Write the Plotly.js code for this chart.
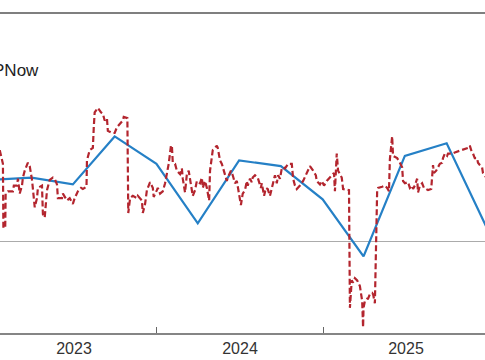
<!DOCTYPE html>
<html>
<head>
<meta charset="utf-8">
<script src="https://cdn.plot.ly/plotly-3.0.1.min.js"></script>
<style>
html,body{margin:0;padding:0;overflow:hidden;width:485px;height:360px;background:#fff}
#wrap{position:absolute;left:-100px;top:0;width:625px;height:360px}
</style>
</head>
<body>
<div id="wrap"></div>
<script>
// Quarterly real GDP growth (blue line), plotted at quarter end
const gdpDates = ['2022-12-31','2023-03-31','2023-06-30','2023-09-30','2023-12-31','2024-03-31','2024-06-30','2024-09-30','2024-12-31','2025-03-31','2025-06-30','2025-09-30','2025-12-31'];
const gdpValues = [2.7, 2.8, 2.5, 4.6, 3.4, 0.8, 3.55, 3.3, 1.85, -0.65, 3.75, 4.3, 0.45];

// GDPNow nowcast (red dashed line)
const nowDates = [
'2023-01-20','2023-01-23','2023-01-27','2023-01-28','2023-02-01','2023-02-02','2023-02-07','2023-02-18','2023-02-20','2023-02-27',
'2023-03-01','2023-03-05','2023-03-10','2023-03-12','2023-03-16','2023-03-23','2023-03-27','2023-04-01','2023-04-03','2023-04-07',
'2023-04-12','2023-04-14','2023-04-23','2023-04-25','2023-04-29','2023-05-04','2023-05-10','2023-05-17','2023-05-21','2023-05-26',
'2023-05-28','2023-06-06','2023-06-08','2023-06-17','2023-06-23','2023-06-30','2023-07-04','2023-07-11','2023-07-18','2023-07-22',
'2023-07-30','2023-07-31','2023-08-06','2023-08-13','2023-08-15','2023-08-17','2023-08-24','2023-08-31','2023-09-04','2023-09-08',
'2023-09-13','2023-09-15','2023-09-24','2023-09-30','2023-10-05','2023-10-12','2023-10-18','2023-10-20','2023-10-27','2023-10-28',
'2023-10-30','2023-11-03','2023-11-09','2023-11-18','2023-11-20','2023-11-29','2023-12-01','2023-12-06','2023-12-10','2023-12-17',
'2023-12-23','2023-12-25','2024-01-01','2024-01-03','2024-01-08','2024-01-14','2024-01-19','2024-01-23','2024-01-27','2024-02-01',
'2024-02-03','2024-02-05','2024-02-10','2024-02-14','2024-02-21','2024-02-25','2024-02-27','2024-03-03','2024-03-07','2024-03-11',
'2024-03-16','2024-03-20','2024-03-25','2024-03-29','2024-04-05','2024-04-09','2024-04-11','2024-04-16','2024-04-20','2024-04-25',
'2024-04-27','2024-05-01','2024-05-03','2024-05-08','2024-05-12','2024-05-14','2024-05-19','2024-05-23','2024-05-28','2024-06-03',
'2024-06-05','2024-06-12','2024-06-16','2024-06-21','2024-06-25','2024-06-30','2024-07-04','2024-07-08','2024-07-13','2024-07-17',
'2024-07-19','2024-07-24','2024-07-28','2024-07-30','2024-08-04','2024-08-10','2024-08-17','2024-08-19','2024-08-24','2024-08-28',
'2024-09-01','2024-09-06','2024-09-10','2024-09-12','2024-09-17','2024-09-21','2024-09-24','2024-09-28','2024-10-02','2024-10-05',
'2024-10-09','2024-10-16','2024-10-24','2024-10-27','2024-10-31','2024-11-04','2024-11-11','2024-11-18','2024-11-26','2024-12-03',
'2024-12-10','2024-12-16','2024-12-18','2024-12-25','2024-12-29','2025-01-03','2025-01-09','2025-01-14','2025-01-20','2025-01-25',
'2025-01-27','2025-01-29','2025-01-31','2025-02-03','2025-02-07','2025-02-11','2025-02-14','2025-02-25','2025-02-27','2025-03-01',
'2025-03-05','2025-03-08','2025-03-12','2025-03-17','2025-03-19','2025-03-23','2025-03-28','2025-03-30','2025-03-31','2025-04-03',
'2025-04-08','2025-04-10','2025-04-14','2025-04-19','2025-04-21','2025-04-25','2025-04-30','2025-05-02','2025-05-11','2025-05-17',
'2025-05-22','2025-05-26','2025-05-28','2025-06-02','2025-06-04','2025-06-08','2025-06-13','2025-06-19','2025-06-24','2025-06-26',
'2025-06-30','2025-07-07','2025-07-11','2025-07-16','2025-07-18','2025-07-22','2025-07-27','2025-07-29','2025-08-02','2025-08-07',
'2025-08-11','2025-08-16','2025-08-20','2025-08-27','2025-08-29','2025-08-31','2025-09-02','2025-09-07','2025-09-11','2025-09-15',
'2025-09-20','2025-09-22','2025-09-26','2025-10-01','2025-10-03','2025-10-12','2025-10-18','2025-10-25','2025-11-03','2025-11-09',
'2025-11-16','2025-11-20','2025-11-23','2025-11-27','2025-12-01','2025-12-06','2025-12-08','2025-12-12','2025-12-17','2025-12-19',
'2025-12-23','2025-12-30'];
const nowValues = [
4.0,3.7,3.4,0.6,0.6,2.1,2.2,2.2,2.45,2.45,
2.75,2.1,2.45,2.8,3.1,3.45,3.3,2.7,2.2,1.5,
1.9,2.35,2.45,1.2,1.05,2.25,2.7,2.8,2.75,2.5,
1.9,1.9,2.1,1.8,1.9,1.65,1.9,2.2,2.35,2.3,
2.4,3.55,4.0,4.1,5.0,5.65,5.85,5.65,5.6,5.3,
5.4,4.85,4.75,4.75,5.0,5.15,5.3,5.45,5.4,5.4,
1.25,1.9,2.0,1.9,2.0,1.8,1.25,1.65,2.25,2.6,
2.35,1.95,2.25,2.35,2.1,2.2,2.55,3.0,3.4,4.2,
4.2,3.45,3.4,3.1,2.95,3.2,2.75,2.15,2.95,3.1,
2.55,2.0,2.25,2.65,2.55,2.8,2.35,2.65,2.35,1.8,
3.1,3.85,4.0,4.1,4.2,4.1,3.55,3.4,3.0,2.65,
2.8,3.1,2.9,2.55,2.65,1.95,1.6,2.1,2.25,2.65,
2.45,2.75,2.6,2.8,2.9,2.8,2.35,2.55,2.0,2.35,
2.3,2.0,2.35,2.6,2.9,2.55,2.9,2.75,3.2,3.25,
3.2,3.4,3.4,2.75,2.45,2.3,2.45,2.65,3.0,3.3,
3.1,2.9,2.65,2.5,2.65,2.45,2.65,2.75,2.9,3.0,
2.2,2.8,3.85,3.1,2.95,2.8,2.3,2.25,2.25,-2.9,
-1.7,-1.8,-1.6,-1.7,-1.8,-1.95,-2.6,-3.75,-2.9,-2.6,
-2.5,-2.5,-2.3,-2.25,-2.3,-2.7,2.25,2.35,2.4,2.45,
2.35,2.2,3.6,4.6,3.75,3.7,3.65,3.45,3.25,2.65,
2.55,2.6,2.35,2.45,2.3,2.45,2.75,2.15,2.45,2.55,
2.35,2.3,2.25,2.3,2.95,3.35,3.0,3.1,3.25,3.4,
3.45,3.65,3.85,3.75,3.85,3.85,3.9,3.95,4.0,4.05,
4.1,4.2,4.0,3.85,3.65,3.65,3.45,3.35,3.25,3.0,
2.9,2.7];

const traces = [
  {
    x: gdpDates, y: gdpValues, type: 'scatter', mode: 'lines',
    name: 'Real GDP', showlegend: false,
    line: {color: '#2580c6', width: 2.2}
  },
  {
    x: nowDates, y: nowValues, type: 'scatter', mode: 'lines',
    name: 'GDPNow',
    line: {color: '#b3252e', width: 2.2, dash: '6px,3px'}
  }
];

const layout = {
  width: 625, height: 360,
  margin: {l: 80, r: 15, t: 13, b: 27},
  paper_bgcolor: '#ffffff', plot_bgcolor: '#ffffff',
  font: {family: 'Liberation Sans, Arial, sans-serif', color: '#333'},
  xaxis: {
    type: 'date',
    range: ['2022-12-07 12:00', '2026-02-16 12:00'],
    showgrid: false, zeroline: false,
    showline: true, linecolor: '#858585', linewidth: 1.5,
    ticks: 'inside', ticklen: 6, tickcolor: '#666', tickwidth: 1,
    dtick: 'M12', tick0: '2023-01-01', tickformat: '%Y',
    ticklabelmode: 'period',
    tickfont: {size: 16, color: '#333'}
  },
  yaxis: {
    range: [-4, 10], showgrid: false,
    zeroline: true, zerolinecolor: '#ababab', zerolinewidth: 1.5,
    showline: false, showticklabels: false, ticks: ''
  },
  shapes: [
    {type: 'line', xref: 'paper', yref: 'paper', x0: 0, x1: 1, y0: 1, y1: 1,
     line: {color: '#555', width: 1.5}}
  ],
  showlegend: true,
  legend: {
    x: -0.099, xanchor: 'left', y: 0.878, yanchor: 'top',
    bgcolor: 'rgba(0,0,0,0)', font: {size: 17, color: '#222'}
  }
};

Plotly.newPlot('wrap', traces, layout, {displayModeBar: false, staticPlot: true});
</script>
</body>
</html>
